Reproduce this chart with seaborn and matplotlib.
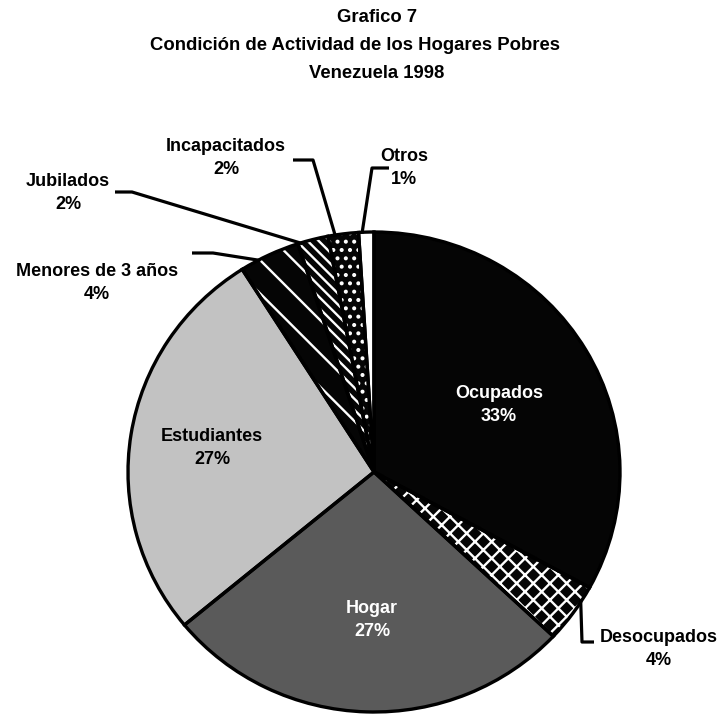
import numpy as np
import matplotlib
matplotlib.use('Agg')
import matplotlib.pyplot as plt
import seaborn as sns

categorias = ['Ocupados', 'Desocupados', 'Hogar', 'Estudiantes',
              'Menores de 3 años', 'Jubilados', 'Incapacitados', 'Otros']
porcentajes = [33, 4, 27, 27, 4, 2, 2, 1]
etiquetas = [f'{c}\n{p}%' for c, p in zip(categorias, porcentajes)]

colores = ['#050505', '#050505', '#5a5a5a', '#c2c2c2', '#050505', '#050505', '#050505', '#ffffff']
tramas = [None, 'xx', None, None, '\\', '\\\\\\', '..', None]

sns.set_theme(style='white')
plt.rcParams['font.family'] = ['Liberation Sans', 'DejaVu Sans']
plt.rcParams['hatch.linewidth'] = 1.7

W, H = 722, 718
fig = plt.figure(figsize=(W / 100, H / 100), dpi=100)
ax = fig.add_axes([0, 0, 1, 1])

# pie center and radii in pixels (the scanned pie is a bit wider than tall)
cx, cy, rx, ry = 374, 472, 246, 240


def px(x, y):
    return (x - cx) / rx, (cy - y) / ry


# fill + white hatches
cuñas, _ = ax.pie(porcentajes, colors=colores, startangle=90, counterclock=False,
                  radius=1, center=(0, 0), wedgeprops=dict(linewidth=0))
for w, t in zip(cuñas, tramas):
    if t:
        w.set_hatch(t)
        w.set_edgecolor('white')
        w.set_linewidth(0)
# black outlines
ax.pie(porcentajes, colors=['none'] * len(porcentajes), startangle=90, counterclock=False,
       radius=1, center=(0, 0), wedgeprops=dict(linewidth=2.4, edgecolor='black', fill=False))

ax.set_xlim(-cx / rx, (W - cx) / rx)
ax.set_ylim(-(H - cy) / ry, cy / ry)
ax.set_aspect('auto')
ax.axis('off')

fs = 13
ls = 1.4
# labels inside the pie
internos = {
    'Ocupados': ((499, 405), 'white'),
    'Hogar': ((372, 620), 'white'),
    'Estudiantes': ((212, 448), 'black'),
}
for i, cat in enumerate(categorias):
    if cat in internos:
        (x, y), col = internos[cat]
        ax.text(*px(x, y), etiquetas[i], ha='center', va='center', fontsize=fs,
                fontweight='bold', color=col, linespacing=ls)

# external labels: leader elbow points, text position, where on the wedge the line starts
externos = {
    'Desocupados': ([(582, 642), (594, 642)], (659, 649), 0.75),
    'Menores de 3 años': ([(213, 253), (192, 253)], (97, 283), 0.67),
    'Jubilados': ([(132, 192), (115, 192)], (68, 193), 0.86),
    'Incapacitados': ([(313, 160), (293, 160)], (226, 158), 0.76),
    'Otros': ([(372, 168), (389, 168)], (404, 168), 0.78),
}
for i, cat in enumerate(categorias):
    if cat not in externos:
        continue
    codo, (tx, ty), frac = externos[cat]
    w = cuñas[i]
    ang = np.deg2rad(w.theta1 + frac * (w.theta2 - w.theta1))
    xs = [np.cos(ang) * 0.995] + [px(*p)[0] for p in codo]
    ys = [np.sin(ang) * 0.995] + [px(*p)[1] for p in codo]
    ax.plot(xs, ys, color='black', lw=2.3, solid_capstyle='butt')
    ax.text(*px(tx, ty), etiquetas[i], ha='center', va='center', fontsize=fs,
            fontweight='bold', color='black', linespacing=ls)

for texto, x, y in [('Grafico 7', 377, 17),
                    ('Condición de Actividad de los Hogares Pobres', 355, 46),
                    ('Venezuela 1998', 377, 73)]:
    fig.text(x / W, 1 - y / H, texto, ha='center', va='center', fontsize=13.3,
             fontweight='bold', color='black')

fig.savefig('out.png', dpi=100, facecolor='white')
